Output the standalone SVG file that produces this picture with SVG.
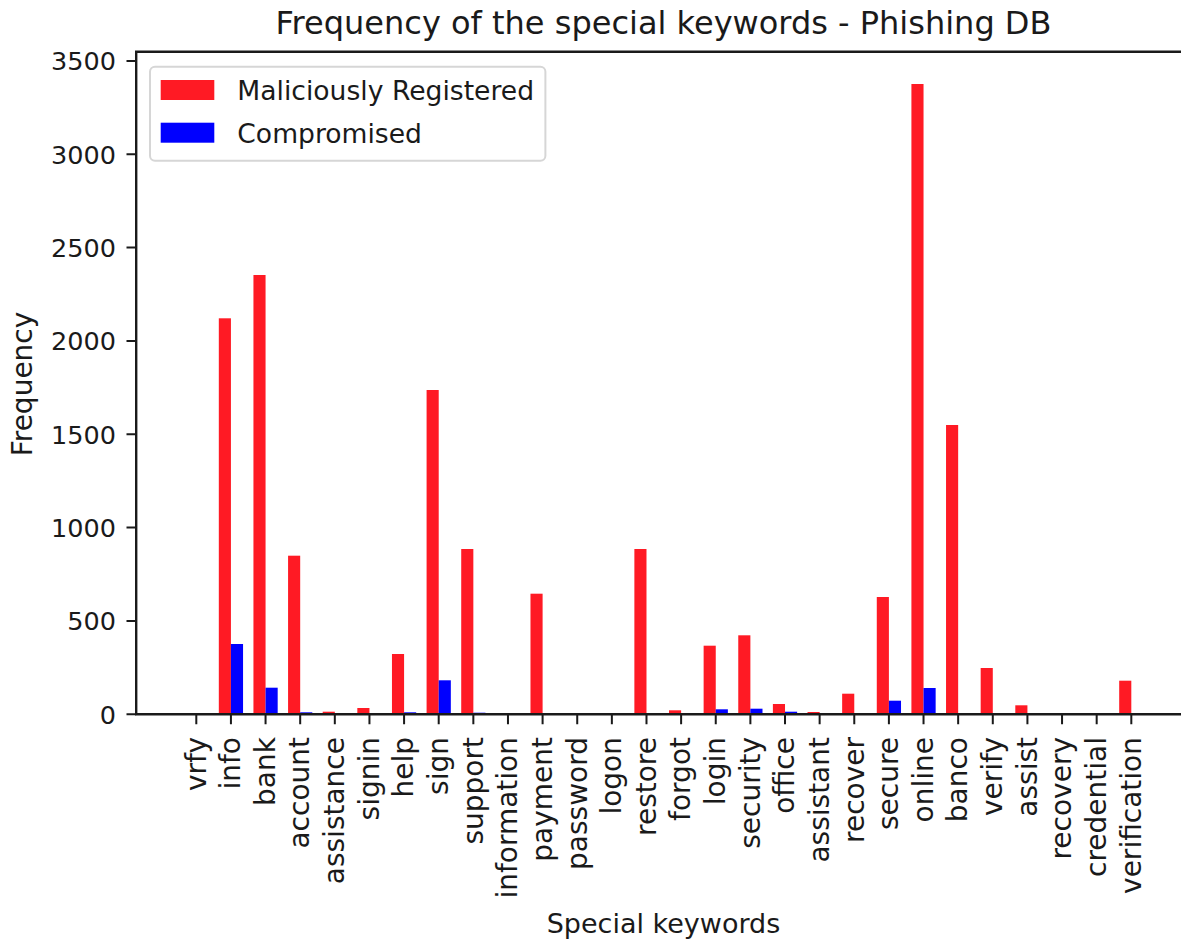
<svg xmlns="http://www.w3.org/2000/svg" width="1181" height="941" viewBox="0 0 1181 941">
<style>
text{font-family:"DejaVu Sans","Liberation Sans",sans-serif;fill:#1a1a1a}
.r{fill:#ff1a24}
.b{fill:#0000ff}
.tk{stroke:#1a1a1a;stroke-width:2}
.xl{font-size:28px;text-anchor:end}
.yl{font-size:25.5px;text-anchor:end}
.sp{stroke:#1a1a1a;stroke-width:2.4;fill:none}
</style>
<rect width="1181" height="941" fill="#fff"/>
<text id="title" x="663.5" y="34" font-size="32" text-anchor="middle">Frequency of the special keywords - Phishing DB</text>
<g id="bars-red">
<rect class="r" x="218.81" y="318.3" width="12.12" height="396"/>
<rect class="r" x="253.44" y="275" width="12.12" height="439.3"/>
<rect class="r" x="288.07" y="555.7" width="12.12" height="158.6"/>
<rect class="r" x="322.7" y="711.7" width="12.12" height="2.6"/>
<rect class="r" x="357.33" y="708" width="12.12" height="6.3"/>
<rect class="r" x="391.96" y="654" width="12.12" height="60.3"/>
<rect class="r" x="426.59" y="390" width="12.12" height="324.3"/>
<rect class="r" x="461.22" y="549" width="12.12" height="165.3"/>
<rect class="r" x="530.48" y="593.7" width="12.12" height="120.6"/>
<rect class="r" x="634.37" y="549" width="12.12" height="165.3"/>
<rect class="r" x="669" y="710.3" width="12.12" height="4"/>
<rect class="r" x="703.63" y="645.7" width="12.12" height="68.6"/>
<rect class="r" x="738.26" y="635.3" width="12.12" height="79"/>
<rect class="r" x="772.89" y="704" width="12.12" height="10.3"/>
<rect class="r" x="807.52" y="712" width="12.12" height="2.3"/>
<rect class="r" x="842.15" y="693.7" width="12.12" height="20.6"/>
<rect class="r" x="876.78" y="597" width="12.12" height="117.3"/>
<rect class="r" x="911.41" y="84" width="12.12" height="630.3"/>
<rect class="r" x="946.04" y="425" width="12.12" height="289.3"/>
<rect class="r" x="980.67" y="668" width="12.12" height="46.3"/>
<rect class="r" x="1015.3" y="705.3" width="12.12" height="9"/>
<rect class="r" x="1119.19" y="680.7" width="12.12" height="33.6"/>
</g>
<g id="bars-blue">
<rect class="b" x="230.93" y="644" width="12.12" height="70.3"/>
<rect class="b" x="265.56" y="687.7" width="12.12" height="26.6"/>
<rect class="b" x="300.19" y="712.3" width="12.12" height="2"/>
<rect class="b" x="404.08" y="712.3" width="12.12" height="2"/>
<rect class="b" x="438.71" y="680.3" width="12.12" height="34"/>
<rect class="b" x="473.34" y="712.7" width="12.12" height="1.6"/>
<rect class="b" x="715.75" y="709.3" width="12.12" height="5"/>
<rect class="b" x="750.38" y="708.7" width="12.12" height="5.6"/>
<rect class="b" x="785.01" y="711.7" width="12.12" height="2.6"/>
<rect class="b" x="888.9" y="700.7" width="12.12" height="13.6"/>
<rect class="b" x="923.53" y="688" width="12.12" height="26.3"/>
</g>
<g id="axes">
<path class="sp" d="M1185 51.8H136.2V714.3H1185"/>
</g>
<g id="y-ticks">
<path class="tk" d="M126.5 714.3h9.7M126.5 621h9.7M126.5 527.6h9.7M126.5 434.3h9.7M126.5 341h9.7M126.5 247.6h9.7M126.5 154.3h9.7M126.5 61h9.7"/>
<text class="yl" x="116" y="723.5">0</text>
<text class="yl" x="116" y="630.2">500</text>
<text class="yl" x="116" y="536.8">1000</text>
<text class="yl" x="116" y="443.5">1500</text>
<text class="yl" x="116" y="350.2">2000</text>
<text class="yl" x="116" y="256.8">2500</text>
<text class="yl" x="116" y="163.5">3000</text>
<text class="yl" x="116" y="70.2">3500</text>
</g>
<g id="x-ticks">
<path class="tk" d="M196.3 714.3v10M230.93 714.3v10M265.56 714.3v10M300.19 714.3v10M334.82 714.3v10M369.45 714.3v10M404.08 714.3v10M438.71 714.3v10M473.34 714.3v10M507.97 714.3v10M542.6 714.3v10M577.23 714.3v10M611.86 714.3v10M646.49 714.3v10M681.12 714.3v10M715.75 714.3v10M750.38 714.3v10M785.01 714.3v10M819.64 714.3v10M854.27 714.3v10M888.9 714.3v10M923.53 714.3v10M958.16 714.3v10M992.79 714.3v10M1027.42 714.3v10M1062.05 714.3v10M1096.68 714.3v10M1131.31 714.3v10"/>
<text class="xl" transform="translate(205.6 737) rotate(-90)">vrfy</text>
<text class="xl" transform="translate(240.23 737) rotate(-90)">info</text>
<text class="xl" transform="translate(274.86 737) rotate(-90)">bank</text>
<text class="xl" transform="translate(309.49 737) rotate(-90)">account</text>
<text class="xl" transform="translate(344.12 737) rotate(-90)">assistance</text>
<text class="xl" transform="translate(378.75 737) rotate(-90)">signin</text>
<text class="xl" transform="translate(413.38 737) rotate(-90)">help</text>
<text class="xl" transform="translate(448.01 737) rotate(-90)">sign</text>
<text class="xl" transform="translate(482.64 737) rotate(-90)">support</text>
<text class="xl" transform="translate(517.27 737) rotate(-90)">information</text>
<text class="xl" transform="translate(551.9 737) rotate(-90)">payment</text>
<text class="xl" transform="translate(586.53 737) rotate(-90)">password</text>
<text class="xl" transform="translate(621.16 737) rotate(-90)">logon</text>
<text class="xl" transform="translate(655.79 737) rotate(-90)">restore</text>
<text class="xl" transform="translate(690.42 737) rotate(-90)">forgot</text>
<text class="xl" transform="translate(725.05 737) rotate(-90)">login</text>
<text class="xl" transform="translate(759.68 737) rotate(-90)">security</text>
<text class="xl" transform="translate(794.31 737) rotate(-90)">office</text>
<text class="xl" transform="translate(828.94 737) rotate(-90)">assistant</text>
<text class="xl" transform="translate(863.57 737) rotate(-90)">recover</text>
<text class="xl" transform="translate(898.2 737) rotate(-90)">secure</text>
<text class="xl" transform="translate(932.83 737) rotate(-90)">online</text>
<text class="xl" transform="translate(967.46 737) rotate(-90)">banco</text>
<text class="xl" transform="translate(1002.09 737) rotate(-90)">verify</text>
<text class="xl" transform="translate(1036.72 737) rotate(-90)">assist</text>
<text class="xl" transform="translate(1071.35 737) rotate(-90)">recovery</text>
<text class="xl" transform="translate(1105.98 737) rotate(-90)">credential</text>
<text class="xl" transform="translate(1140.61 737) rotate(-90)">verification</text>
</g>
<text id="xlabel" x="663.5" y="933" font-size="27" text-anchor="middle">Special keywords</text>
<text id="ylabel" transform="translate(32 384) rotate(-90)" font-size="28" text-anchor="middle">Frequency</text>
<g id="legend">
<rect x="150" y="66.7" width="395.4" height="94" rx="5" fill="#fff" fill-opacity="0.8" stroke="#d6d6d6" stroke-width="2"/>
<rect class="r" x="160.7" y="80" width="53.6" height="20"/>
<rect class="b" x="160.7" y="122.7" width="53.6" height="20"/>
<text x="237.3" y="100" font-size="26.6">Maliciously Registered</text>
<text x="237.3" y="142.7" font-size="26.6">Compromised</text>
</g>
</svg>
